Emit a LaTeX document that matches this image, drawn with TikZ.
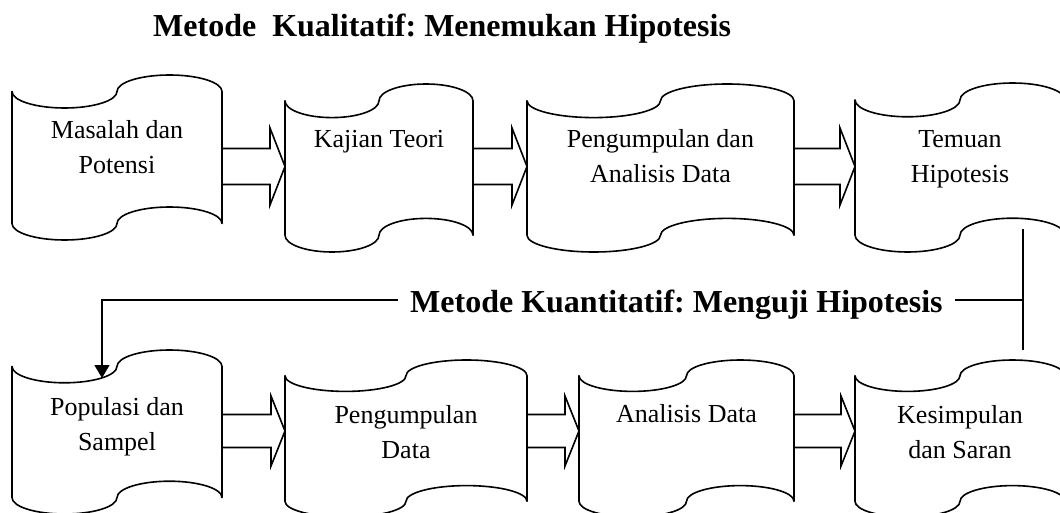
\documentclass[tikz,border=0pt]{standalone}
\usepackage{fontspec}
\setmainfont{Liberation Serif}
\frenchspacing
\usetikzlibrary{calc,arrows.meta}
\tikzset{
  tapeline/.style={line width=1.6pt, line join=round},
  arrowline/.style={line width=1.6pt, line join=miter},
  fbline/.style={line width=1.5pt},
  boxnode/.style={draw=none, inner sep=0pt, outer sep=0pt},
  boxtext/.style={inner sep=0pt, anchor=base, align=center, font=\fontsize{26}{35}\selectfont},
  headtext/.style={inner sep=0pt, anchor=base west, font=\fontsize{32}{38}\selectfont\bfseries},
}
\newcommand\tapepath{(0,0.1) .. controls (0,0.15523) and (0.11193,0.2) .. (0.25,0.2)
  .. controls (0.38807,0.2) and (0.5,0.15523) .. (0.5,0.1)
  .. controls (0.5,0.04477) and (0.61193,0) .. (0.75,0)
  .. controls (0.88807,0) and (1,0.04477) .. (1,0.1) -- (1,0.9)
  .. controls (1,0.84477) and (0.88807,0.8) .. (0.75,0.8)
  .. controls (0.61193,0.8) and (0.5,0.84477) .. (0.5,0.9)
  .. controls (0.5,0.95523) and (0.38807,1) .. (0.25,1)
  .. controls (0.11193,1) and (0,0.95523) .. (0,0.9) -- cycle}
% #1 name, #2 left, #3 top, #4 width, #5 height, #6 last baseline, #7 text
\newcommand\tapebox[7]{%
  \begin{scope}[shift={(#2,#3)},xscale=#4,yscale=#5]
    \draw[tapeline] \tapepath;
  \end{scope}
  \node[boxnode, minimum width=#4pt, minimum height={0.8*#5pt}] (#1) at ({#2+#4/2},{#3+#5/2}) {};
  \node[boxtext] (#1t) at ({#2+#4/2},#6) {#7};
}
% #1 from, #2 to, #3 row, #4 shaft half, #5 head half, #6 head length
\newcommand\blockarrow[6]{%
  \draw[arrowline] let \p1=(#1.east |- #3), \p2=(#2.west |- #3) in
    (\x1,\y1+#4pt) -- (\x2-#6pt,\y1+#4pt) -- (\x2-#6pt,\y1+#5pt) -- (\x2,\y1)
    -- (\x2-#6pt,\y1-#5pt) -- (\x2-#6pt,\y1-#4pt) -- (\x1,\y1-#4pt);
}
\begin{document}
\begin{tikzpicture}[x=1pt,y=-1pt]
\useasboundingbox (0,0) rectangle (1060,513);
\clip (0,0) rectangle (1060,513);

\node[headtext] (title) at (153,37) {Metode~~Kualitatif: Menemukan Hipotesis};

\tapebox{b1}{12}{75}{210}{165}{174}{Masalah dan\\Potensi}
\tapebox{b2}{285}{84}{188}{168}{148}{Kajian Teori}
\tapebox{b3}{527}{84}{267}{168}{183}{Pengumpulan dan\\Analisis Data}
\tapebox{b4}{855}{83}{210}{169}{183}{Temuan\\Hipotesis}

\tapebox{b5}{12}{350}{210}{164}{450}{Populasi dan\\Sampel}
\tapebox{b6}{285}{360}{242}{157}{458}{Pengumpulan\\Data}
\tapebox{b7}{579}{360}{215}{157}{422}{Analisis Data}
\tapebox{b8}{855}{360}{210}{157}{458}{Kesimpulan\\dan Saran}

\coordinate (rowA) at (0,166.5);
\coordinate (rowB) at (0,431);
\blockarrow{b1}{b2}{rowA}{18}{38.5}{15}
\blockarrow{b2}{b3}{rowA}{18}{38.5}{15}
\blockarrow{b3}{b4}{rowA}{18}{38.5}{15}
\blockarrow{b5}{b6}{rowB}{16.5}{35}{14}
\blockarrow{b6}{b7}{rowB}{16.5}{35}{14}
\blockarrow{b7}{b8}{rowB}{16.5}{35}{14}

\coordinate (fbTop) at (1023,229);
\coordinate (fbBot) at (1023,350);
\coordinate (fbRow) at (0,300);
\coordinate (fbIn) at (102,378);
\node[headtext, inner xsep=12.5pt] (mid) at (397.5,312) {Metode Kuantitatif: Menguji Hipotesis};
\draw[fbline] (fbTop) -- (fbBot);
\draw[fbline] (mid.east |- fbRow) -- (fbTop |- fbRow);
\draw[fbline, -{Triangle[width=15pt,length=13pt]}] (mid.west |- fbRow) -| (fbIn);
\end{tikzpicture}
\end{document}
